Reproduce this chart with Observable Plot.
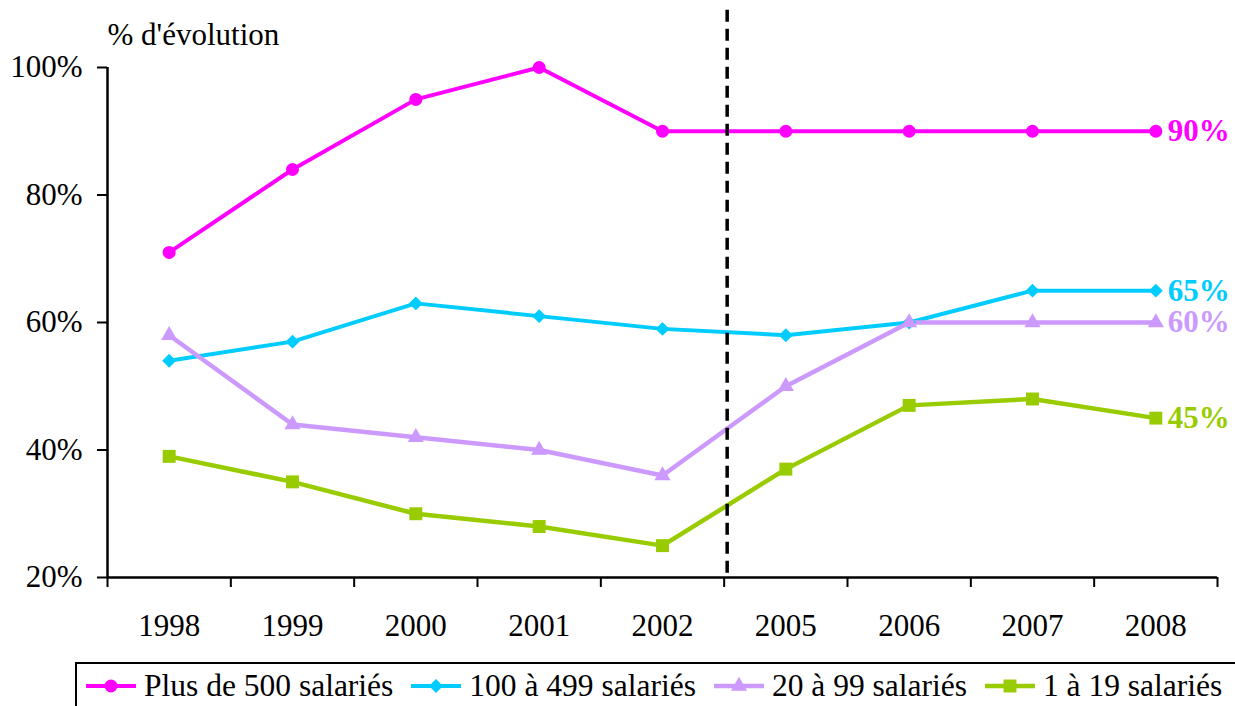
<!DOCTYPE html>
<html><head><meta charset="utf-8">
<script src="https://cdn.jsdelivr.net/npm/d3@7"></script>
<script src="https://cdn.jsdelivr.net/npm/@observablehq/plot@0.6"></script>
<style>
body{margin:0;background:#fff;font-family:"Liberation Serif","Times New Roman",serif;overflow:hidden;}
#chart{position:absolute;left:0;top:0;}
#legend{position:absolute;left:75px;top:662px;width:1200px;height:43px;border:2px solid #000;display:flex;align-items:center;font-size:31.5px;color:#000;white-space:nowrap;font-family:"Liberation Serif","Times New Roman",serif;padding-left:9px;}
.item{display:flex;align-items:center;margin-right:18px;}
.item svg{margin-right:8px;}
</style></head>
<body><div id="chart"></div><div id="legend"></div>
<script>
const years = ["1998","1999","2000","2001","2002","2005","2006","2007","2008"];
const seriesNames = ["Plus de 500 salariés","100 à 499 salariés","20 à 99 salariés","1 à 19 salariés"];
const plus500 = [71,84,95,100,90,90,90,90,90];
const s100_499 = [54,57,63,61,59,58,60,65,65];
const s20_99 = [58,44,42,40,36,50,60,60,60];
const s1_19 = [39,35,30,28,25,37,47,48,45];
const endLabels = ["90%","65%","60%","45%"];
const yTicks = [20,40,60,80,100];
const yDomain = [20,100];
const breakYear = "2005";
const breakTop = 109;
const yTitle = "% d'évolution";

const seriesColors = ["#FF00FF","#00CCFF","#CC99FF","#99CC00"];
const seriesSymbols = ["circle","diamond2","triangle","square"];
const seriesR = [6.5,6.3,6,7.3];
const seriesWidth = [4,4,4.5,4.5];

const values = [plus500, s100_499, s20_99, s1_19];
const n = years.length;
const rows = values.map((v, s) => v.map((y, i) => ({s, xi: i + 0.5, y})));
const lastRows = values.map((v, s) => ({s, xi: n - 0.5, y: v[n - 1], label: endLabels[s]}));
const breakX = years.indexOf(breakYear);

const marks = [];
rows.forEach((r, s) => {
  marks.push(Plot.line(r, {x: "xi", y: "y", stroke: seriesColors[s], strokeWidth: seriesWidth[s], strokeLinejoin: "round"}));
});
rows.forEach((r, s) => {
  marks.push(Plot.dot(r, {x: "xi", y: "y", symbol: () => seriesSymbols[s], r: seriesR[s], fill: seriesColors[s], stroke: "none"}));
});
marks.push(Plot.text(lastRows, {x: "xi", y: "y", text: "label", dx: 12, textAnchor: "start", lineAnchor: "middle", fill: d => seriesColors[d.s], fontWeight: "bold", fontSize: 31}));
marks.push(Plot.ruleX([breakX], {y1: breakTop, y2: yDomain[0], stroke: "#000", strokeWidth: 3.5, strokeDasharray: "12,7", dx: 3}));
marks.push(Plot.ruleY([yDomain[0]], {stroke: "#000", strokeWidth: 2.5}));
marks.push(Plot.ruleX([0], {y1: yDomain[0], y2: yDomain[1], stroke: "#000", strokeWidth: 2.5}));
marks.push(Plot.axisY(yTicks, {label: null, tickSize: 10, tickPadding: 15, tickFormat: d => d + "%", fontSize: 31, strokeWidth: 2, stroke: "#000", color: "#000"}));
marks.push(Plot.axisX(d3.range(n + 1), {label: null, tickSize: 10, tickFormat: () => "", strokeWidth: 2, stroke: "#000"}));
marks.push(Plot.axisX(years.map((y, i) => i + 0.5), {label: null, tickSize: 0, tickPadding: 36, tickFormat: d => years[Math.floor(d)], fontSize: 31}));
marks.push(Plot.text([yTitle], {frameAnchor: "top-left", lineAnchor: "top", textAnchor: "start", dy: -45, fontSize: 31, fill: "#000"}));

const chart = Plot.plot({
  width: 1235,
  height: 650,
  marginLeft: 107,
  marginRight: 18,
  marginTop: 67,
  marginBottom: 73,
  style: {fontFamily: "'Liberation Serif', 'Times New Roman', serif", background: "#fff", color: "#000", overflow: "visible"},
  x: {type: "linear", domain: [0, n], axis: null, label: null},
  y: {domain: yDomain, axis: null, label: null},
  marks
});
document.getElementById("chart").appendChild(chart);

const legend = document.getElementById("legend");
seriesNames.forEach((name, s) => {
  const item = document.createElement("div");
  item.className = "item";
  const sw = d3.create("svg").attr("width", 50).attr("height", 20);
  sw.append("line").attr("x1", 0).attr("x2", 50).attr("y1", 10).attr("y2", 10)
    .attr("stroke", seriesColors[s]).attr("stroke-width", seriesWidth[s]);
  const symType = {circle: d3.symbolCircle, diamond2: d3.symbolDiamond2, triangle: d3.symbolTriangle, square: d3.symbolSquare}[seriesSymbols[s]];
  sw.append("path").attr("transform", "translate(25,10)")
    .attr("d", d3.symbol(symType, Math.PI * seriesR[s] * seriesR[s])())
    .attr("fill", seriesColors[s]);
  item.appendChild(sw.node());
  const t = document.createElement("span");
  t.textContent = name;
  item.appendChild(t);
  legend.appendChild(item);
});
</script>
</body></html>
